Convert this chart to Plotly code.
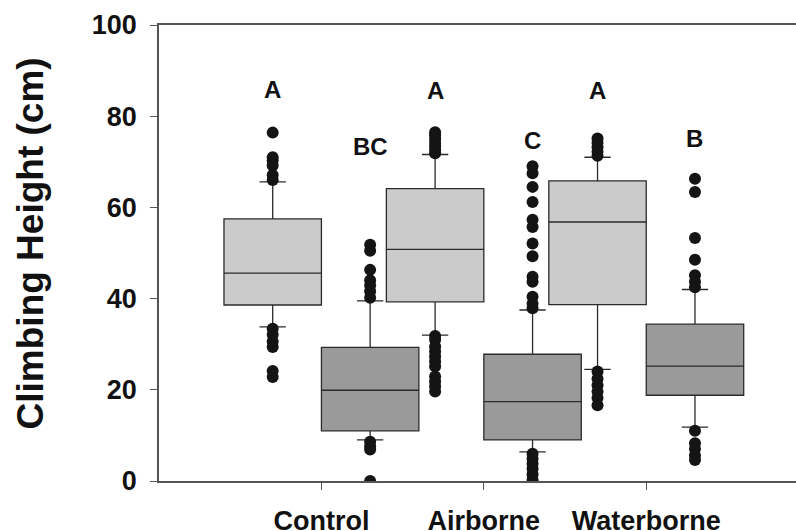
import plotly.graph_objects as go

categories = ["Control", "Airborne", "Waterborne"]
cat_pos = [1, 2, 3]

# light grey boxes (first box of each group)
light_q1 = [38.6, 39.3, 38.7]
light_median = [45.6, 50.8, 56.8]
light_q3 = [57.5, 64.1, 65.8]
light_low = [33.8, 32.0, 24.5]
light_high = [65.6, 71.6, 71.0]
light_outliers = [
    [76.4, 71.0, 70.3, 69.2, 67.1, 66.0, 33.4, 32.1, 30.6, 29.4, 24.1, 22.8],
    [76.5, 75.8, 75.0, 74.2, 73.4, 72.6, 71.9, 31.8, 31.0, 29.5, 28.4, 27.3, 26.2, 25.1, 22.9, 21.8, 20.7, 19.6],
    [75.1, 74.2, 73.2, 72.2, 71.3, 24.0, 22.4, 21.0, 19.6, 18.2, 16.6],
]

# dark grey boxes (second box of each group)
dark_q1 = [11.0, 9.0, 18.8]
dark_median = [19.9, 17.4, 25.2]
dark_q3 = [29.3, 27.8, 34.4]
dark_low = [9.0, 6.4, 11.8]
dark_high = [39.5, 37.5, 42.0]
dark_outliers = [
    [51.8, 50.5, 46.3, 44.0, 42.9, 41.6, 40.2, 8.6, 7.6, 6.9, 0.0],
    [69.0, 67.5, 64.5, 61.2, 57.3, 55.7, 52.1, 49.3, 44.8, 43.7, 40.4, 38.9, 37.9, 6.0, 4.9, 3.8, 2.7, 1.5, 0.2],
    [66.3, 63.4, 53.3, 48.5, 45.1, 43.7, 42.5, 11.0, 8.3, 7.0, 5.6, 4.6],
]

# significance letters
light_letters = ["A", "A", "A"]
light_letter_y = [85.9, 85.7, 85.7]
dark_letters = ["BC", "C", "B"]
dark_letter_y = [73.3, 74.7, 75.1]

OFFSET = 0.3
BOX_W = 0.6
FONT = "Liberation Sans, Arial, sans-serif"

fig = go.Figure()

series = [
    (-OFFSET, "#cbcbcb", light_q1, light_median, light_q3, light_low, light_high, light_outliers, light_letters, light_letter_y),
    (OFFSET, "#9a9a9a", dark_q1, dark_median, dark_q3, dark_low, dark_high, dark_outliers, dark_letters, dark_letter_y),
]

for i, c in enumerate(cat_pos):
    for off, col, q1, med, q3, lo, hi, outs, letters, ly in series:
        x = c + off
        fig.add_trace(go.Box(
            x=[x], q1=[q1[i]], median=[med[i]], q3=[q3[i]],
            lowerfence=[lo[i]], upperfence=[hi[i]],
            width=BOX_W, whiskerwidth=0.27, boxpoints=False,
            fillcolor=col, line=dict(color="#2b2b2b", width=1.3),
            showlegend=False, hoverinfo="skip",
        ))
        fig.add_trace(go.Scatter(
            x=[x] * len(outs[i]), y=outs[i], mode="markers",
            marker=dict(size=12, color="#141414"),
            showlegend=False, hoverinfo="skip",
        ))
        fig.add_annotation(
            x=x, y=ly[i], text=letters[i], showarrow=False,
            font=dict(family=FONT, size=24, color="#111111", weight="bold"),
            xanchor="center", yanchor="middle",
        )

fig.add_annotation(
    x=-0.2025, y=0.521, xref="paper", yref="paper",
    text="Climbing Height (cm)", textangle=-90, showarrow=False,
    font=dict(family=FONT, size=37, color="#111111", weight="bold"),
    xanchor="center", yanchor="middle",
)

fig.update_layout(
    width=796, height=531,
    margin=dict(l=159, r=0, t=25, b=50),
    paper_bgcolor="white", plot_bgcolor="white",
    boxmode="overlay",
    showlegend=False,
)
fig.update_xaxes(
    range=[0, 3.922], tickvals=cat_pos, ticktext=categories,
    showgrid=False, zeroline=False, automargin=False,
    showline=True, linecolor="#555555", linewidth=1.6, mirror=True,
    ticks="outside", ticklen=7, tickcolor="#555555", tickwidth=1.3,
    tickfont=dict(family=FONT, size=27, color="#111111", weight="bold"),
    ticklabelstandoff=8,
)
fig.update_yaxes(
    range=[0, 100], tickvals=[0, 20, 40, 60, 80, 100],
    showgrid=False, zeroline=False, automargin=False,
    showline=True, linecolor="#555555", linewidth=1.6,
    ticks="outside", ticklen=7, tickcolor="#555555", tickwidth=1.3,
    tickfont=dict(family=FONT, size=27, color="#111111", weight="bold"),
    ticklabelstandoff=8,
)

fig.write_html("out.html", config={"displayModeBar": False},
               post_script="document.body.style.margin='0';")
